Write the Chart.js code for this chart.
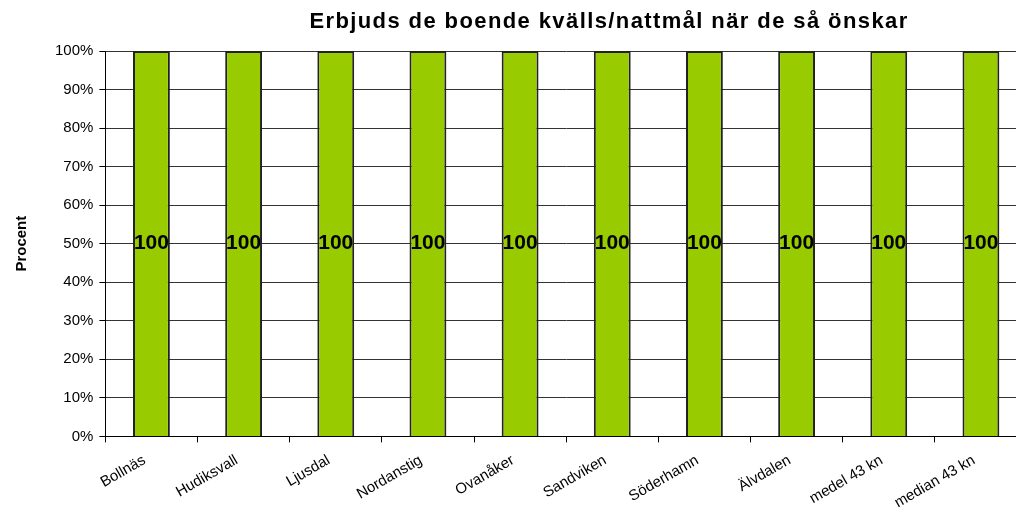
<!DOCTYPE html>
<html>
<head>
<meta charset="utf-8">
<script src="https://cdn.jsdelivr.net/npm/chart.js@4"></script>
<style>
  html, body { margin:0; padding:0; background:#fff; overflow:hidden; }
  #wrap { width:1027px; height:521px; position:relative; }
</style>
</head>
<body>
<div id="wrap"><canvas id="graf"></canvas></div>
<script>
// ---------------- Dados ----------------
const kommuner = ['Bollnäs','Hudiksvall','Ljusdal','Nordanstig','Ovanåker','Sandviken','Söderhamn','Älvdalen','medel 43 kn','median 43 kn'];
const andel = [100, 100, 100, 100, 100, 100, 100, 100, 100, 100];
const yTicks = [0, 10, 20, 30, 40, 50, 60, 70, 80, 90, 100];
const titulo = 'Erbjuds de boende kvälls/nattmål när de så önskar';

const fonte = '"Liberation Sans", Arial, sans-serif';

// título (no original fica um pouco à direita do centro)
const tituloPlugin = {
    id: 'tituloPlugin',
    afterDraw(chart) {
        const ctx = chart.ctx;
        ctx.save();
        ctx.font = 'bold 22px ' + fonte;
        ctx.letterSpacing = '1.4px';
        ctx.fillStyle = '#000';
        ctx.textAlign = 'center';
        ctx.textBaseline = 'middle';
        ctx.fillText(titulo, 609, 22);
        ctx.restore();
    }
};

// etiquetas dentro das barras
const etiquetas = {
    id: 'etiquetas',
    afterDatasetsDraw(chart) {
        const ctx = chart.ctx;
        const meta = chart.getDatasetMeta(0);
        ctx.save();
        ctx.font = 'bold 21px ' + fonte;
        ctx.fillStyle = '#000';
        ctx.textAlign = 'center';
        ctx.textBaseline = 'middle';
        meta.data.forEach((bar, i) => {
            const yMeio = (bar.y + bar.base) / 2;
            ctx.fillText(String(andel[i]), bar.x, yMeio);
        });
        ctx.restore();
    }
};

new Chart(document.getElementById('graf'), {
    type: 'bar',
    data: {
        labels: kommuner,
        datasets: [{
            data: andel,
            backgroundColor: '#99cc00',
            borderColor: '#222',
            borderWidth: 2,
            barPercentage: 0.4,
            categoryPercentage: 1.0
        }]
    },
    options: {
        responsive: true,
        maintainAspectRatio: false,
        animation: false,
        layout: { padding: { left: 9, right: 0, top: 51, bottom: 0 } },
        plugins: {
            legend: { display: false },
            tooltip: { enabled: false },
            title: { display: false }
        },
        scales: {
            y: {
                min: 0, max: 100,
                afterBuildTicks: ax => { ax.ticks = yTicks.map(v => ({ value: v })); },
                ticks: {
                    callback: v => v + '%',
                    color: '#000',
                    font: { family: fonte, size: 15 },
                    padding: 6
                },
                grid: { color: '#333', lineWidth: 1, drawTicks: true, tickLength: 6, tickColor: '#000' },
                border: { color: '#000', width: 1 },
                title: {
                    display: true,
                    text: 'Procent',
                    color: '#000',
                    font: { family: fonte, size: 15, weight: 'bold' },
                    padding: { bottom: 18 }
                }
            },
            x: {
                offset: true,
                ticks: {
                    color: '#000',
                    font: { family: fonte, size: 15 },
                    minRotation: 30,
                    maxRotation: 30,
                    padding: 9,
                    labelOffset: -7
                },
                grid: { display: true, drawOnChartArea: false, drawTicks: true, tickLength: 6, color: '#000', offset: true },
                border: { color: '#000', width: 1 }
            }
        }
    },
    plugins: [etiquetas, tituloPlugin]
});
</script>
</body>
</html>
